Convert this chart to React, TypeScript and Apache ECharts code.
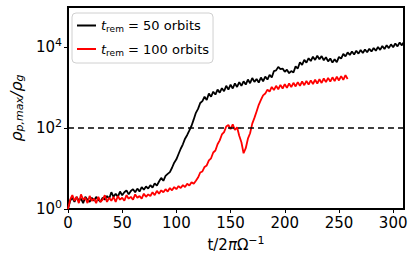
import React, { useEffect, useRef } from "react";
import * as echarts from "echarts";

// sampling step of the time axis (orbits)
const STEP = 2;

// rho_p,max / rho_g for t_rem = 50 orbits, sampled every 2 orbits from t = 0
const black50: number[] = [
  1.0, 1.6, 1.9, 1.5, 2.0, 1.6, 1.8, 1.4, 2.0, 1.7,
  1.5, 1.9, 1.6, 2.0, 1.7, 1.5, 1.9, 1.7, 2.1, 1.8,
  2.6, 2.0, 2.4, 2.0, 2.7, 2.2, 2.6, 2.9, 2.3, 2.8,
  3.1, 2.6, 3.2, 2.7, 3.5, 3.0, 3.6, 3.2, 3.9, 3.4,
  4.3, 3.8, 4.8, 5.9, 5.0, 6.6, 7.4, 8.2, 10.5, 14,
  17, 23, 31, 40, 55, 68, 88, 115, 165, 240,
  300, 420, 470, 600, 500, 720, 600, 800, 680, 900,
  760, 980, 820, 1120, 900, 1200, 960, 1280, 1050, 1380,
  1120, 1450, 1200, 1600, 1300, 1750, 1400, 1650, 1350, 1800,
  1450, 1900, 1600, 2100, 1800, 2600, 2700, 3300, 2900, 3000,
  2500, 2800, 2300, 2600, 2400, 3400, 3000, 4300, 3700, 4900,
  4200, 5400, 4600, 5900, 4900, 6200, 5100, 6100, 4800, 5700,
  4500, 5300, 4200, 5100, 4300, 5800, 5300, 6900, 6000, 7500,
  6500, 7900, 6700, 8300, 7000, 8600, 7300, 8900, 7600, 9300,
  7900, 9700, 8300, 10200, 8700, 10800, 9100, 11300, 9600, 11900,
  10100, 12500, 10600, 13200, 11200, 13800,
];

// rho_p,max / rho_g for t_rem = 100 orbits, sampled every 2 orbits from t = 0
const red100: number[] = [
  1.0, 1.7, 2.2, 1.6, 2.0, 1.4, 2.3, 1.7, 1.9, 1.4,
  2.1, 1.6, 1.8, 1.4, 2.0, 1.5, 1.7, 2.2, 1.5, 1.9,
  1.6, 2.0, 1.5, 2.1, 1.7, 1.9, 1.6, 2.2, 1.8, 2.0,
  1.7, 2.3, 1.9, 2.1, 1.8, 2.4, 2.0, 2.3, 2.1, 2.6,
  2.2, 2.8, 2.4, 2.9, 2.6, 3.1, 2.7, 3.3, 2.9, 3.5,
  3.1, 3.7, 3.3, 3.9, 3.5, 4.2, 3.8, 4.6, 4.2, 5.0,
  6.0, 8.0, 8.5, 11, 12, 16, 18, 25, 28, 40,
  50, 70, 80, 110, 120, 95, 125, 90, 105, 65,
  45, 24, 32, 55, 75, 130, 180, 260, 380, 500,
  650, 720, 900, 800, 1050, 880, 1120, 920, 1180, 960,
  1230, 1000, 1280, 1040, 1330, 1080, 1380, 1120, 1430, 1160,
  1480, 1200, 1530, 1240, 1580, 1280, 1630, 1320, 1700, 1380,
  1760, 1420, 1820, 1470, 1880, 1520, 1950, 1580, 2050, 1650,
];

const xTicks = [0, 50, 100, 150, 200, 250, 300];
const xMax = 310;
const yMin = 1;
const yMax = 100000;
const threshold = 100;

const FONT = "DejaVu Sans";

export default function App() {
  const ref = useRef<HTMLDivElement>(null);
  useEffect(() => {
    if (!ref.current) return;
    const chart = echarts.init(ref.current, null, { renderer: "svg" });
    const toPairs = (arr: number[]) => arr.map((v, i) => [i * STEP, v]);
    chart.setOption({
      animation: false,
      backgroundColor: "#fff",
      textStyle: { fontFamily: FONT },
      grid: {
        left: 66,
        right: 9,
        top: 7,
        bottom: 53,
        show: true,
        borderColor: "#000",
        borderWidth: 2,
        backgroundColor: "transparent",
      },
      legend: {
        left: 72,
        top: 13,
        orient: "vertical",
        backgroundColor: "#fff",
        borderColor: "#d0d0d0",
        borderWidth: 1,
        borderRadius: 4,
        padding: [6, 4, 6, 5],
        itemWidth: 19,
        itemHeight: 2,
        itemGap: 9,
        icon: "rect",
        data: ["b50", "r100"],
        formatter: (name: string) =>
          name === "b50"
            ? "{i|t}{s|rem}{n| = 50 orbits}"
            : "{i|t}{s|rem}{n| = 100 orbits}",
        textStyle: {
          color: "#000",
          fontFamily: FONT,
          fontSize: 13,
          rich: {
            i: { fontStyle: "italic", fontSize: 13, fontFamily: FONT, color: "#000" },
            s: { fontSize: 9, fontFamily: FONT, color: "#000", padding: [7, 0, 0, 0] },
            n: { fontSize: 13, fontFamily: FONT, color: "#000" },
          },
        },
      },
      xAxis: {
        type: "value",
        min: 0,
        max: xMax,
        interval: 50,
        name: "{n|t/2}{i|π}{n|Ω}{s|−1}",
        nameLocation: "middle",
        nameGap: 26,
        nameTextStyle: {
          color: "#000",
          rich: {
            n: { fontSize: 15, fontFamily: FONT, color: "#000" },
            i: { fontSize: 15, fontFamily: FONT, color: "#000", fontStyle: "italic" },
            s: { fontSize: 11, fontFamily: FONT, color: "#000", padding: [0, 0, 9, 0] },
          },
        },
        splitLine: { show: false },
        axisLine: { show: true, lineStyle: { color: "#000", width: 2 } },
        axisTick: { show: true, inside: false, length: 4, lineStyle: { color: "#000", width: 1 } },
        axisLabel: {
          color: "#000",
          fontSize: 15,
          fontFamily: FONT,
          margin: 6,
          showMaxLabel: false,
          formatter: (v: number) => (xTicks.includes(v) ? String(v) : ""),
        },
      },
      yAxis: {
        type: "log",
        logBase: 100,
        min: yMin,
        max: yMax,
        splitNumber: 2,
        name: "{r|ρ}{s|p,max}{r|/ρ}{s|g}",
        nameLocation: "middle",
        nameGap: 42,
        nameRotate: 90,
        nameTextStyle: {
          color: "#000",
          rich: {
            r: { fontSize: 16, fontFamily: FONT, color: "#000", fontStyle: "italic" },
            s: { fontSize: 11, fontFamily: FONT, color: "#000", fontStyle: "italic", padding: [7, 0, 0, 0] },
          },
        },
        splitLine: { show: false },
        minorTick: { show: false },
        axisLine: { show: true, lineStyle: { color: "#000", width: 2 } },
        axisTick: { show: true, inside: false, length: 4, lineStyle: { color: "#000", width: 1 } },
        axisLabel: {
          color: "#000",
          margin: 6,
          showMaxLabel: false,
          formatter: (v: number) => {
            const e = Math.round(Math.log10(v));
            if (e % 2 !== 0 || e > 4) return "";
            return "{b|10}{e|" + e + "}";
          },
          rich: {
            b: { fontSize: 15, fontFamily: FONT, color: "#000" },
            e: { fontSize: 11, fontFamily: FONT, color: "#000", padding: [0, 0, 9, 0] },
          },
        },
      },
      series: [
        {
          name: "b50",
          type: "line",
          data: toPairs(black50),
          showSymbol: false,
          symbol: "none",
          color: "#000",
          lineStyle: { color: "#000", width: 1.8 },
          markLine: {
            silent: true,
            symbol: "none",
            label: { show: false },
            lineStyle: { color: "#000", type: [6, 4], width: 1.5 },
            data: [{ yAxis: threshold }],
          },
        },
        {
          name: "r100",
          type: "line",
          data: toPairs(red100),
          showSymbol: false,
          symbol: "none",
          color: "#ff0000",
          lineStyle: { color: "#ff0000", width: 1.8 },
        },
      ],
    });
    return () => chart.dispose();
  }, []);
  return (
    <div
      ref={ref}
      style={{ position: "fixed", left: 0, top: 0, width: 413, height: 262 }}
    />
  );
}
